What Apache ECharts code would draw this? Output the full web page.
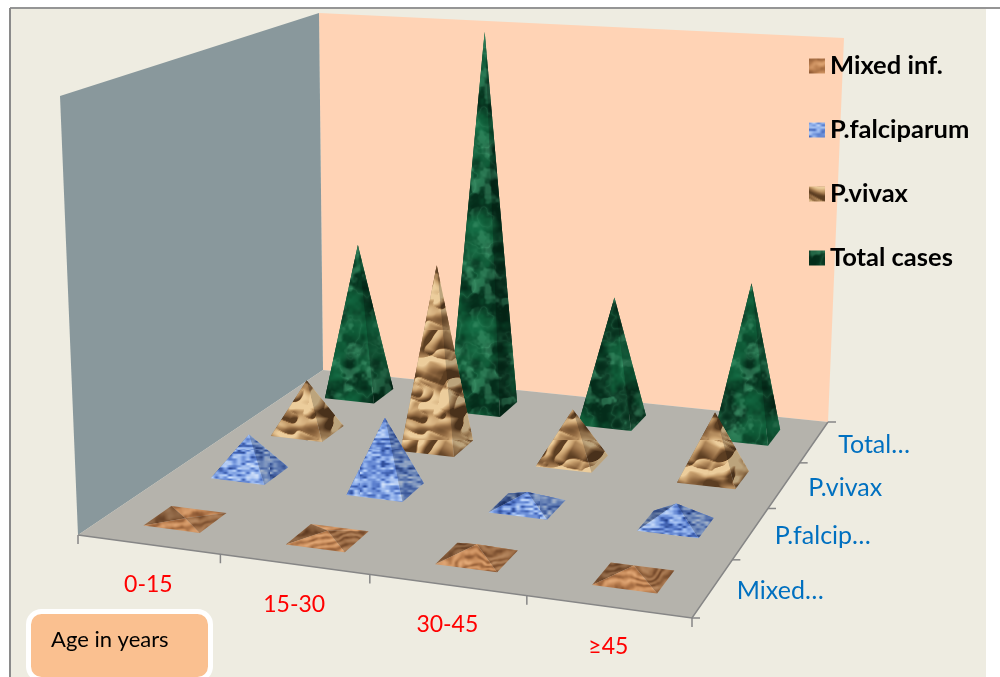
<!DOCTYPE html>
<html>
<head>
<meta charset="utf-8">
<title>Malaria cases by age group</title>
<style>html,body{margin:0;padding:0;background:#fff;overflow:hidden}#chart{width:1000px;height:677px}</style>
<script src="https://cdn.jsdelivr.net/npm/echarts@6/dist/echarts.min.js"></script>
</head>
<body>
<div id="chart"></div>
<script>
// Categories along the two floor axes
const ageGroups = ['0-15', '15-30', '30-45', '≥45'];
const speciesGroups = ['Mixed…', 'P.falcip…', 'P.vivax', 'Total…'];

// Series values per age group (no scale is printed; read as relative counts)
const mixedInf = [1, 7, 12, 11];
const pFalciparum = [39, 71, 14, 20];
const pVivax = [54, 187, 53, 65];
const totalCases = [165, 399, 132, 159];

const legendNames = ['Mixed inf.', 'P.falciparum', 'P.vivax', 'Total cases'];
const valueAxisMax = 400;

// Floor corners and wall tops of the 3D box, in pixels
const floorFL = [78, 535], floorFR = [692, 618], floorBR = [828, 422], floorBL = [323, 370];
const wallFL = [60, 96], wallBL = [319, 13], wallBR = [844, 38];
const verticalVanish = [448, 9546];
const depthLambda = -0.0464;
const baseFraction = 0.4;
const cellShiftU = 0.003;

// Square-to-quad perspective transform for the floor
const H = (function () {
  const [x0, y0] = floorFL, [x1, y1] = floorFR, [x2, y2] = floorBR, [x3, y3] = floorBL;
  const dx1 = x1 - x2, dx2 = x3 - x2, sx = x0 - x1 + x2 - x3;
  const dy1 = y1 - y2, dy2 = y3 - y2, sy = y0 - y1 + y2 - y3;
  const det = dx1 * dy2 - dx2 * dy1;
  const g = (sx * dy2 - dx2 * sy) / det, h = (dx1 * sy - sx * dy1) / det;
  return { a: x1 - x0 + g * x1, b: x3 - x0 + h * x3, c: x0, d: y1 - y0 + g * y1, e: y3 - y0 + h * y3, f: y0, g, h };
})();

// Projects (u, v) on the floor and z (0..1 of the wall height) to screen pixels
function project(u, v, z) {
  const w = H.g * u + H.h * v + 1;
  const px = (H.a * u + H.b * v + H.c) / w, py = (H.d * u + H.e * v + H.f) / w;
  const t = z * depthLambda / (w + z * depthLambda);
  return [px + (verticalVanish[0] - px) * t, py + (verticalVanish[1] - py) * t];
}

// Value noise used for the marble, bronze, weave and wood surfaces
function hash(ix, iy, seed, per) {
  ix = ((ix % per) + per) % per; iy = ((iy % per) + per) % per;
  const s = Math.sin(ix * 127.1 + iy * 311.7 + seed * 74.7) * 43758.5453;
  return s - Math.floor(s);
}
function vnoise(x, y, seed, per) {
  const ix = Math.floor(x), iy = Math.floor(y);
  let fx = x - ix, fy = y - iy;
  fx = fx * fx * (3 - 2 * fx); fy = fy * fy * (3 - 2 * fy);
  const a = hash(ix, iy, seed, per), b = hash(ix + 1, iy, seed, per);
  const c = hash(ix, iy + 1, seed, per), d = hash(ix + 1, iy + 1, seed, per);
  return (a + (b - a) * fx) * (1 - fy) + (c + (d - c) * fx) * fy;
}
function fbm(u, v, seed, per, oct) {
  let sum = 0, amp = 0.5, tot = 0;
  for (let i = 0; i < oct; i++) {
    sum += amp * vnoise(u * per, v * per, seed + i, per);
    tot += amp; amp *= 0.5; per *= 2;
  }
  return sum / tot;
}
function ramp(stops, t) {
  t = Math.max(0, Math.min(0.9999, t)) * (stops.length - 1);
  const i = Math.floor(t), f = t - i, a = stops[i], b = stops[i + 1];
  return [a[0] + (b[0] - a[0]) * f, a[1] + (b[1] - a[1]) * f, a[2] + (b[2] - a[2]) * f];
}
function smooth(a, b, x) {
  const t = Math.max(0, Math.min(1, (x - a) / (b - a)));
  return t * t * (3 - 2 * t);
}
function makeTexture(w, h, fn) {
  const cv = document.createElement('canvas');
  cv.width = w; cv.height = h;
  const ctx = cv.getContext('2d'), img = ctx.createImageData(w, h);
  for (let y = 0; y < h; y++) for (let x = 0; x < w; x++) {
    const c = fn(x / w, y / h), k = (y * w + x) * 4;
    img.data[k] = c[0]; img.data[k + 1] = c[1]; img.data[k + 2] = c[2]; img.data[k + 3] = 255;
  }
  ctx.putImageData(img, 0, 0);
  return cv;
}
// Mottled green marble with soft light blotches
const marble = makeTexture(100, 100, (u, v) => {
  const patch = fbm(u, v, 3, 4, 4);
  const blotch = smooth(0.5, 0.72, fbm(u, v, 13, 8, 3));
  const ridge = 1 - Math.abs(2 * fbm(u, v, 9, 6, 3) - 1);
  const base = ramp([[4, 44, 26], [12, 84, 50], [20, 108, 68]], (patch - 0.32) * 2.6);
  return ramp([base, [62, 148, 106]], blotch * 0.55 + Math.pow(ridge, 6) * 0.3);
});
// Crumpled foil: folds running on a slant, lit from one side, with dark bands
const foilHeight = (u, v) => {
  const a = Math.abs(vnoise(3.5 * u + 2 * v + 5, 4.5 * v - 2.5 * u + 5, 91, 4096) - 0.5);
  const b = Math.abs(vnoise(7 * u + 3 * v + 9, 9 * v - 5 * u + 9, 95, 4096) - 0.5);
  return a + b * 0.5;
};
const bronze = makeTexture(130, 110, (u, v) => {
  const e = 1 / 130;
  const gx = foilHeight(u + e, v) - foilHeight(u - e, v);
  const gy = foilHeight(u, v + e) - foilHeight(u, v - e);
  const band = smooth(0.52, 0.72, fbm(u * 1.6 + v * 0.4, v * 2.2, 99, 3, 2));
  const tone = 0.6 + (gx * 0.9 + gy * 1.1) * 9 - band * 0.42;
  return ramp([[92, 62, 34], [146, 106, 66], [200, 160, 110], [236, 205, 156]], tone);
});
// Blue weave of short dark dashes
const weave = makeTexture(90, 90, (u, v) => {
  const cell = vnoise(u * 20, v * 40, 41, 800);
  const wash = fbm(u, v, 47, 5, 2);
  return ramp([[34, 64, 140], [88, 124, 204], [146, 178, 236], [210, 226, 250]], cell * 0.85 + wash * 0.4 - 0.08);
});
// Warm wood grain
const wood = makeTexture(100, 100, (u, v) => {
  const warp = fbm(u, v, 61, 4, 3);
  const s = 0.5 + 0.5 * Math.sin(2 * Math.PI * (v * 11 + u * 2 + warp * 3));
  const fine = fbm(u, v, 67, 16, 2);
  return ramp([[136, 84, 48], [192, 132, 84], [226, 168, 118]], s * 0.55 + fine * 0.6 - 0.03);
});

// One pyramid per data row, faces painted back to front with flat shading
function renderPyramid(pattern) {
  return function (params, api) {
    const centre = api.coord([api.value(0), api.value(1)]);
    const u = centre[0] / 400 + cellShiftU, v = 1 - centre[1] / 400;
    const half = baseFraction / 8;
    const z = api.value(2) / valueAxisMax;
    const fl = project(u - half, v - half, 0), fr = project(u + half, v - half, 0);
    const br = project(u + half, v + half, 0), bl = project(u - half, v + half, 0);
    const top = project(u, v, z);
    const faces = [[bl, br, null], [bl, fl, 'rgba(0,0,0,0.32)'], [fr, br, 'rgba(0,0,0,0.2)'], [fl, fr, null]];
    const children = [];
    faces.forEach(function (f) {
      const points = [f[0], f[1], top];
      children.push({ type: 'polygon', shape: { points }, style: { fill: pattern }, silent: true });
      if (f[2]) children.push({ type: 'polygon', shape: { points }, style: { fill: f[2] }, silent: true });
    });
    return { type: 'group', children };
  };
}

const rows = (values, j) => values.map((val, i) => [i, j, val]);
function pyramidSeries(name, values, j, image) {
  const pattern = { image, repeat: 'repeat' };
  return {
    type: 'custom', name, coordinateSystem: 'cartesian2d', xAxisIndex: 0, yAxisIndex: 0,
    data: rows(values, j), encode: { x: 0, y: 1 }, itemStyle: { color: pattern },
    renderItem: renderPyramid(pattern), silent: true, animation: false, z: 3 + (3 - j)
  };
}

// Box walls, floor, skewed axes and the age caption
const axisColor = '#868686';
const labelFont = 'Lato, Carlito, sans-serif';
const elements = [
  { type: 'rect', z: 0, shape: { x: 10, y: 8, width: 976, height: 669 }, style: { fill: '#EEECE1' } },
  { type: 'line', z: 0, shape: { x1: 10, y1: 8, x2: 1000, y2: 8 }, style: { stroke: '#959595', lineWidth: 2 } },
  { type: 'line', z: 0, shape: { x1: 10, y1: 8, x2: 10, y2: 677 }, style: { stroke: '#8a8a8a', lineWidth: 2 } },
  { type: 'polygon', z: 0, shape: { points: [wallBL, wallBR, floorBR, floorBL] }, style: { fill: '#FFD3B5' } },
  { type: 'polygon', z: 0, shape: { points: [wallFL, wallBL, floorBL, floorFL] }, style: { fill: '#89989C' } },
  { type: 'polygon', z: 0, shape: { points: [floorFL, floorFR, floorBR, floorBL] }, style: { fill: '#B5B3AC' } },
  { type: 'polyline', z: 0, shape: { points: [floorFL, floorFR, floorBR] }, style: { fill: 'none', stroke: axisColor, lineWidth: 1.5 } }
];
for (let k = 0; k <= ageGroups.length; k++) {
  const p = project(k / ageGroups.length, 0, 0);
  elements.push({ type: 'line', z: 0, shape: { x1: p[0], y1: p[1], x2: p[0], y2: p[1] + 9 }, style: { stroke: axisColor, lineWidth: 1.5 } });
}
for (let k = 0; k <= speciesGroups.length; k++) {
  const p = project(1, k / speciesGroups.length, 0);
  elements.push({ type: 'line', z: 0, shape: { x1: p[0], y1: p[1], x2: p[0] + 8, y2: p[1] }, style: { stroke: axisColor, lineWidth: 1.5 } });
}
ageGroups.forEach(function (label, i) {
  const p = project((i + 0.5) / ageGroups.length, 0, 0);
  elements.push({ type: 'text', z: 1, x: p[0], y: p[1] + 40, style: { text: label, fill: '#FF0000', font: '23px ' + labelFont, textAlign: 'center', textVerticalAlign: 'middle' } });
});
speciesGroups.forEach(function (label, j) {
  const p = project(1, (j + 0.5) / speciesGroups.length, 0);
  elements.push({ type: 'text', z: 1, x: p[0] + 24, y: p[1] + 3, style: { text: label, fill: '#0070C0', font: '25px ' + labelFont, textAlign: 'left', textVerticalAlign: 'middle' } });
});
elements.push({ type: 'rect', z: 1, shape: { x: 28.5, y: 611.5, width: 182, height: 68, r: 13 }, style: { fill: '#FAC090', stroke: '#FFFFFF', lineWidth: 5 } });
elements.push({ type: 'text', z: 1, x: 51, y: 640, style: { text: 'Age in years', fill: '#000', font: '22px ' + labelFont, textVerticalAlign: 'middle' } });

const chart = echarts.init(document.getElementById('chart'), null, { renderer: 'canvas' });
chart.setOption({
  animation: false,
  backgroundColor: '#FFFFFF',
  grid: { left: 0, top: 0, width: 400, height: 400, show: false },
  xAxis: { type: 'category', data: ageGroups, show: false },
  yAxis: { type: 'category', data: speciesGroups, show: false },
  legend: {
    orient: 'vertical', left: 809, top: 52, padding: 0, selectedMode: false, icon: 'rect',
    itemWidth: 16, itemHeight: 15, itemGap: 36,
    data: legendNames,
    textStyle: { fontFamily: labelFont, fontWeight: 'bold', fontSize: 25.5, color: '#000', lineHeight: 28, padding: [0, 0, 0, 0] }
  },
  graphic: { elements },
  series: [
    pyramidSeries('Total cases', totalCases, 3, marble),
    pyramidSeries('P.vivax', pVivax, 2, bronze),
    pyramidSeries('P.falciparum', pFalciparum, 1, weave),
    pyramidSeries('Mixed inf.', mixedInf, 0, wood)
  ]
});
</script>
</body>
</html>
